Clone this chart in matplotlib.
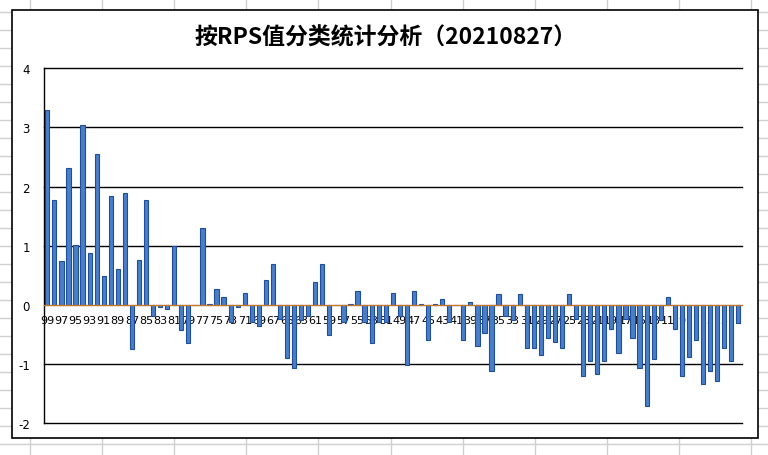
import matplotlib
matplotlib.use("Agg")
import matplotlib.pyplot as plt
from matplotlib.lines import Line2D
from matplotlib.patches import Rectangle

W, H = 768, 456

# RPS category, from 99 down to 1
categories = list(range(99, 0, -1))
values = [
    3.29, 1.77, 0.74, 2.31, 1.01, 3.04, 0.88, 2.56, 0.49, 1.84,
    0.61, 1.90, -0.75, 0.76, 1.78, -0.18, -0.04, -0.07, 1.00, -0.43,
    -0.64, 0.00, 1.30, 0.02, 0.27, 0.13, -0.28, -0.04, 0.21, -0.28,
    -0.35, 0.42, 0.69, -0.24, -0.90, -1.07, -0.25, -0.18, 0.39, 0.69,
    -0.50, 0.00, -0.29, 0.02, 0.23, -0.28, -0.65, -0.29, -0.29, 0.21,
    -0.19, -1.02, 0.23, 0.02, -0.60, 0.02, 0.10, -0.28, 0.00, -0.60,
    0.05, -0.69, -0.48, -1.12, 0.18, -0.18, -0.26, 0.18, -0.73, -0.72,
    -0.84, -0.56, -0.63, -0.72, 0.18, -0.24, -1.20, -0.95, -1.17, -0.95,
    -0.41, -0.82, -0.24, -0.55, -1.07, -1.70, -0.91, -0.26, 0.13, -0.41,
    -1.20, -0.88, -0.59, -1.33, -1.11, -1.29, -0.73, -0.95, -0.31,
]
y_ticks = [-2, -1, 0, 1, 2, 3, 4]
title = "按RPS值分类统计分析（20210827）"

BAR_FILL = "#4A7EC6"
BAR_EDGE = "#1F4F9C"
CELL_LINE = "#D0D0D0"


def fx(px):
    return px / W


def fy(py):
    return 1 - py / H


fig = plt.figure(figsize=(W / 100, H / 100), dpi=100)

# spreadsheet cell lines behind the chart
for x in [30 + 72.1 * i for i in range(11)]:
    fig.add_artist(Line2D([fx(x), fx(x)], [0, 1], color=CELL_LINE, lw=1, zorder=-3))
for y in [13.3 + 18 * i for i in range(25)]:
    fig.add_artist(Line2D([0, 1], [fy(y), fy(y)], color=CELL_LINE, lw=1, zorder=-3))

# chart area box
fig.add_artist(Rectangle((fx(12.3), fy(439.3)), fx(758.3 - 12.3), (439.3 - 11) / H,
                         facecolor="white", edgecolor="black", lw=1.2, zorder=-2))

left, right, top, bottom = 43.8, 741.8, 69.3, 424.3
ax = fig.add_axes([fx(left), fy(bottom), fx(right - left), (bottom - top) / H])
ax.set_facecolor("none")

xpos = list(range(len(categories)))
ax.bar(xpos, values, width=0.6, color=BAR_FILL, edgecolor=BAR_EDGE, linewidth=0.8, zorder=2)

ax.set_xlim(-0.5, len(categories) - 0.5)
ax.set_ylim(-2, 4)
ax.set_yticks(y_ticks)
ax.set_yticklabels([str(v) for v in y_ticks])
for v in y_ticks:
    if v != 0:
        ax.axhline(v, color="black", linewidth=1.0, zorder=1, clip_on=False)

ax.set_xticks(xpos[::2])
ax.set_xticklabels([str(c) for c in categories[::2]])

ax.spines["bottom"].set_position(("data", 0))
ax.spines["bottom"].set_color("#C4782E")
ax.spines["bottom"].set_linewidth(1.0)
ax.spines["bottom"].set_zorder(3)
ax.spines["top"].set_visible(False)
ax.spines["right"].set_visible(False)
ax.spines["left"].set_linewidth(1.0)

ax.tick_params(axis="x", length=0, pad=7, labelsize=8)
ax.tick_params(axis="y", length=0, pad=10, labelsize=8.5)

fig.text(fx(386), fy(38), title, ha="center", va="center", fontsize=16.5, fontweight="bold",
         family=["Noto Sans CJK SC", "DejaVu Sans"])

fig.savefig("out.png", dpi=100)
